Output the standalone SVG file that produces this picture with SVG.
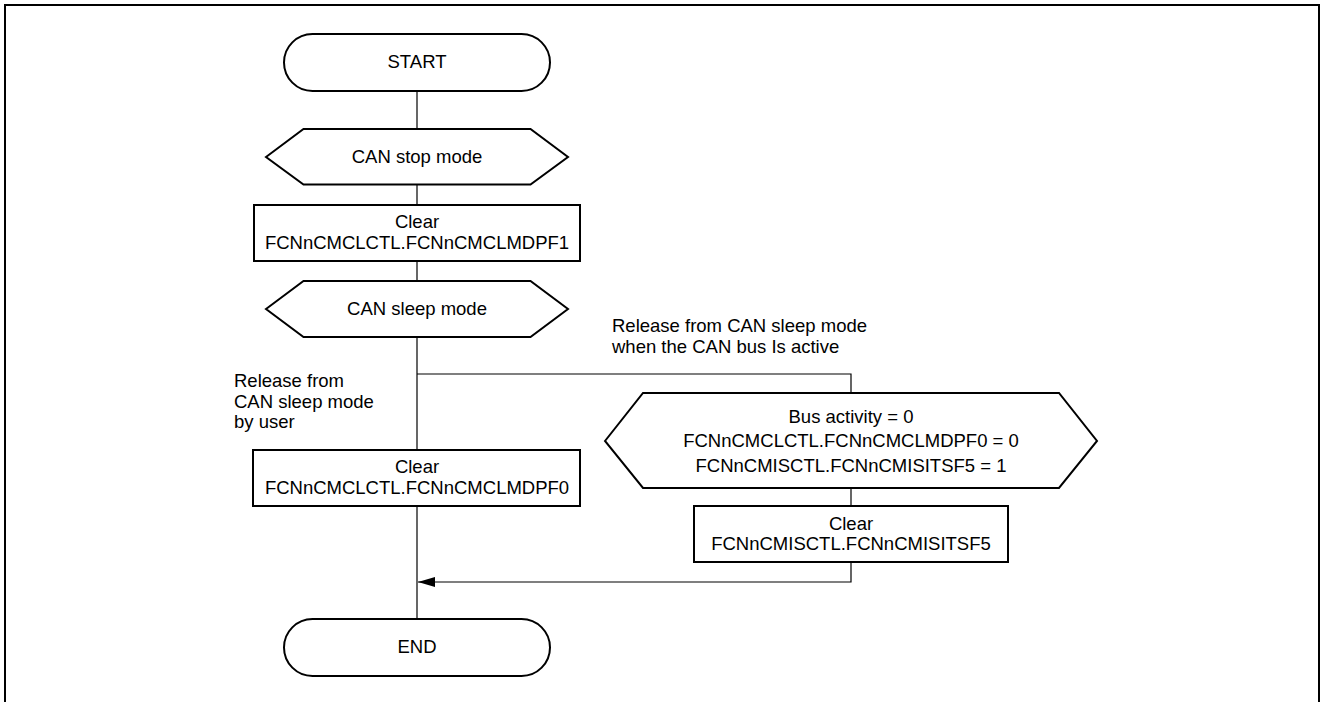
<svg xmlns="http://www.w3.org/2000/svg" width="1323" height="702" viewBox="0 0 1323 702">
<defs>
<style>
.shape{fill:#fff;stroke:#000;stroke-width:2}
.conn{fill:none;stroke:#000;stroke-width:1.2}
text{font-family:"Liberation Sans",Arial,sans-serif;font-size:18.5px;fill:#000}
.c{text-anchor:middle}
</style>
<marker id="arr" viewBox="0 0 17 10" refX="17" refY="5" markerWidth="17" markerHeight="10" markerUnits="userSpaceOnUse" orient="auto">
<path d="M0,0 L17,5 L0,10 Z" fill="#000"/>
</marker>
</defs>
<rect width="1323" height="702" fill="#fff"/>
<path d="M5,702 V5 H1319 V702" fill="none" stroke="#000" stroke-width="2"/>
<g id="connectors">
<line class="conn" x1="417" y1="91" x2="417" y2="129"/>
<line class="conn" x1="417" y1="184" x2="417" y2="205"/>
<line class="conn" x1="417" y1="261" x2="417" y2="281"/>
<line class="conn" x1="417" y1="337" x2="417" y2="450"/>
<line class="conn" x1="417" y1="506" x2="417" y2="619"/>
<polyline class="conn" points="417,374 851,374 851,393"/>
<line class="conn" x1="851" y1="488" x2="851" y2="506"/>
<polyline class="conn" points="851,562 851,582 418,582" marker-end="url(#arr)"/>
</g>
<g id="start">
<rect class="shape" x="284" y="34" width="266" height="57" rx="28.5" ry="28.5"/>
<text class="c" x="417" y="68">START</text>
</g>
<g id="stop-mode">
<polygon class="shape" points="266,157 303.5,129 530.5,129 568,157 530.5,184.5 303.5,184.5"/>
<text class="c" x="417" y="163">CAN stop mode</text>
</g>
<g id="clear-mdpf1">
<rect class="shape" x="254" y="205" width="326" height="56"/>
<text class="c" x="417" y="228">Clear</text>
<text class="c" x="417" y="249">FCNnCMCLCTL.FCNnCMCLMDPF1</text>
</g>
<g id="sleep-mode">
<polygon class="shape" points="266,309 303.5,281 530.5,281 568,309 530.5,337 303.5,337"/>
<text class="c" x="417" y="315">CAN sleep mode</text>
</g>
<g id="label-bus-active">
<text x="612" y="332">Release from CAN sleep mode</text>
<text x="612" y="353">when the CAN bus Is active</text>
</g>
<g id="label-user">
<text x="234" y="387">Release from</text>
<text x="234" y="408">CAN sleep mode</text>
<text x="234" y="428">by user</text>
</g>
<g id="clear-mdpf0">
<rect class="shape" x="253" y="450" width="327" height="56"/>
<text class="c" x="417" y="473">Clear</text>
<text class="c" x="417" y="494">FCNnCMCLCTL.FCNnCMCLMDPF0</text>
</g>
<g id="bus-condition">
<polygon class="shape" points="605,441 643,393 1059,393 1097,441 1059,488 643,488"/>
<text class="c" x="851" y="423">Bus activity = 0</text>
<text class="c" x="851" y="447">FCNnCMCLCTL.FCNnCMCLMDPF0 = 0</text>
<text class="c" x="851" y="472">FCNnCMISCTL.FCNnCMISITSF5 = 1</text>
</g>
<g id="clear-itsf5">
<rect class="shape" x="694" y="506" width="314" height="56"/>
<text class="c" x="851" y="530">Clear</text>
<text class="c" x="851" y="550">FCNnCMISCTL.FCNnCMISITSF5</text>
</g>
<g id="end">
<rect class="shape" x="284" y="619" width="266" height="57" rx="28.5" ry="28.5"/>
<text class="c" x="417" y="653">END</text>
</g>
</svg>
